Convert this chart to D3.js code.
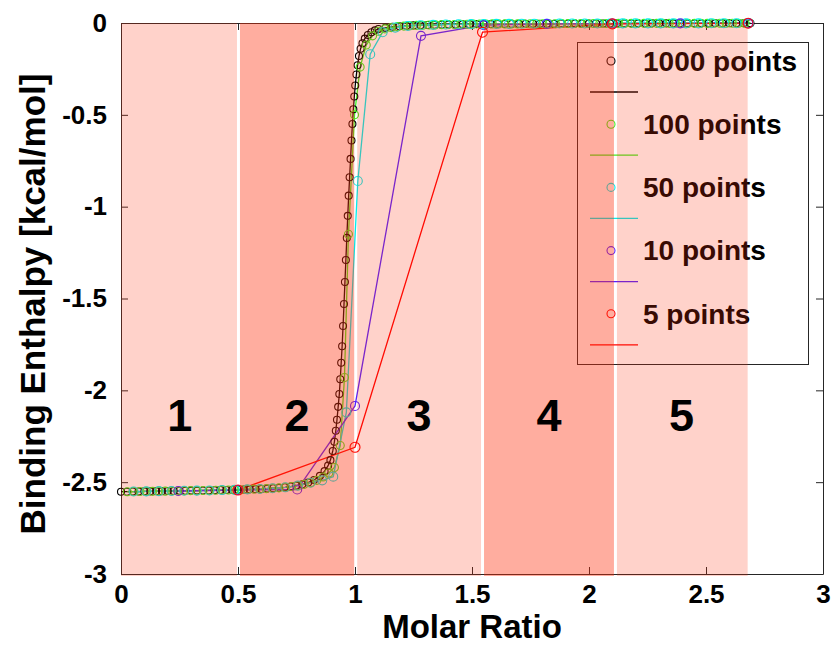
<!doctype html>
<html>
<head>
<script src="https://d3js.org/d3.v7.min.js"></script>
<style>
  body { margin: 0; background: #fff; }
  text { font-family: Arial, "Liberation Sans", Helvetica, sans-serif; font-weight: bold; }
</style>
</head>
<body>
<div id="chart"></div>
<script>
// ---- data ----
var seriesNames = ["1000 points", "100 points", "50 points", "10 points", "5 points"];
var seriesColors = ["#000000", "#44ee22", "#00eeee", "#5522ff", "#ff0000"];

var pts1000 = [
  [0.000,-2.552],[0.025,-2.552],[0.050,-2.551],[0.075,-2.551],[0.100,-2.550],[0.125,-2.550],
  [0.150,-2.549],[0.175,-2.549],[0.200,-2.548],[0.225,-2.548],[0.250,-2.547],[0.275,-2.547],
  [0.300,-2.546],[0.325,-2.546],[0.350,-2.545],[0.375,-2.545],[0.400,-2.544],[0.425,-2.543],
  [0.450,-2.543],[0.475,-2.542],[0.500,-2.541],[0.525,-2.540],[0.550,-2.539],[0.575,-2.538],
  [0.600,-2.537],[0.625,-2.535],[0.650,-2.533],[0.675,-2.531],[0.700,-2.528],[0.725,-2.524],
  [0.750,-2.519],[0.775,-2.512],[0.800,-2.502],[0.825,-2.488],[0.850,-2.466],[0.870,-2.440],
  [0.885,-2.410],[0.895,-2.380],[0.905,-2.330],[0.912,-2.280],[0.918,-2.220],[0.923,-2.160],
  [0.928,-2.090],[0.933,-2.020],[0.937,-1.940],[0.941,-1.850],[0.945,-1.760],[0.949,-1.650],
  [0.953,-1.530],[0.957,-1.410],[0.961,-1.290],[0.965,-1.170],[0.969,-1.050],[0.973,-0.940],
  [0.977,-0.840],[0.981,-0.740],[0.985,-0.640],[0.989,-0.550],[0.993,-0.470],[0.997,-0.400],
  [1.001,-0.340],[1.006,-0.280],[1.011,-0.230],[1.017,-0.180],[1.024,-0.140],[1.032,-0.110],
  [1.042,-0.085],[1.055,-0.065],[1.070,-0.050],[1.085,-0.040],[1.100,-0.033],[1.130,-0.026],
  [1.160,-0.021],[1.190,-0.018],[1.220,-0.015],[1.250,-0.013],[1.280,-0.012],[1.310,-0.011],
  [1.340,-0.010],[1.370,-0.009],[1.400,-0.008],[1.430,-0.008],[1.460,-0.007],[1.490,-0.007],
  [1.520,-0.006],[1.550,-0.006],[1.580,-0.006],[1.610,-0.005],[1.640,-0.005],[1.670,-0.005],
  [1.700,-0.005],[1.730,-0.004],[1.760,-0.004],[1.790,-0.004],[1.820,-0.004],[1.850,-0.004],
  [1.880,-0.003],[1.910,-0.003],[1.940,-0.003],[1.970,-0.003],[2.000,-0.003],[2.030,-0.003],
  [2.060,-0.003],[2.090,-0.003],[2.120,-0.002],[2.150,-0.002],[2.180,-0.002],[2.210,-0.002],
  [2.240,-0.002],[2.270,-0.002],[2.300,-0.002],[2.330,-0.002],[2.360,-0.002],[2.390,-0.002],
  [2.420,-0.002],[2.450,-0.002],[2.480,-0.002],[2.510,-0.002],[2.540,-0.001],[2.570,-0.001],
  [2.600,-0.001],[2.630,-0.001],[2.660,-0.001],[2.690,-0.001]
];

var pts100 = [
  [0.027,-2.552],[0.054,-2.551],[0.081,-2.551],[0.108,-2.550],[0.135,-2.550],[0.162,-2.549],
  [0.189,-2.549],[0.216,-2.548],[0.243,-2.548],[0.270,-2.547],[0.297,-2.546],[0.324,-2.546],
  [0.351,-2.545],[0.378,-2.545],[0.405,-2.544],[0.432,-2.543],[0.459,-2.543],[0.486,-2.542],
  [0.513,-2.541],[0.540,-2.539],[0.567,-2.538],[0.594,-2.537],[0.621,-2.535],[0.648,-2.533],
  [0.675,-2.531],[0.702,-2.528],[0.729,-2.524],[0.756,-2.519],[0.783,-2.512],[0.810,-2.503],
  [0.837,-2.490],[0.864,-2.472],[0.888,-2.450],[0.912,-2.420],[0.937,-2.300],[0.955,-1.930],
  [0.972,-1.150],[0.998,-0.500],[1.022,-0.240],[1.048,-0.120],[1.075,-0.070],[1.100,-0.045],
  [1.128,-0.032],[1.155,-0.025],[1.182,-0.020],[1.209,-0.017],[1.236,-0.015],[1.263,-0.013],
  [1.290,-0.012],[1.317,-0.011],[1.344,-0.010],[1.371,-0.009],[1.398,-0.008],[1.425,-0.008],
  [1.452,-0.007],[1.479,-0.007],[1.506,-0.006],[1.533,-0.006],[1.560,-0.006],[1.587,-0.005],
  [1.614,-0.005],[1.641,-0.005],[1.668,-0.005],[1.695,-0.005],[1.722,-0.004],[1.749,-0.004],
  [1.776,-0.004],[1.803,-0.004],[1.830,-0.004],[1.857,-0.004],[1.884,-0.003],[1.911,-0.003],
  [1.938,-0.003],[1.965,-0.003],[1.992,-0.003],[2.019,-0.003],[2.046,-0.003],[2.073,-0.003],
  [2.100,-0.003],[2.127,-0.002],[2.154,-0.002],[2.181,-0.002],[2.208,-0.002],[2.235,-0.002],
  [2.262,-0.002],[2.289,-0.002],[2.316,-0.002],[2.343,-0.002],[2.370,-0.002],[2.397,-0.002],
  [2.424,-0.002],[2.451,-0.002],[2.478,-0.002],[2.505,-0.002],[2.532,-0.001],[2.559,-0.001],
  [2.586,-0.001],[2.613,-0.001],[2.640,-0.001],[2.667,-0.001]
];

var pts50 = [
  [0.054,-2.551],[0.108,-2.550],[0.162,-2.549],[0.216,-2.548],[0.270,-2.547],[0.324,-2.546],
  [0.378,-2.545],[0.432,-2.543],[0.486,-2.542],[0.540,-2.539],[0.594,-2.537],[0.648,-2.533],
  [0.702,-2.528],[0.756,-2.519],[0.810,-2.503],[0.860,-2.490],[0.907,-2.470],[0.963,-2.120],
  [1.012,-0.860],[1.065,-0.170],[1.118,-0.050],[1.172,-0.025],[1.226,-0.016],[1.280,-0.012],
  [1.334,-0.010],[1.388,-0.008],[1.442,-0.007],[1.496,-0.006],[1.550,-0.006],[1.604,-0.005],
  [1.658,-0.005],[1.712,-0.004],[1.766,-0.004],[1.820,-0.004],[1.874,-0.003],[1.928,-0.003],
  [1.982,-0.003],[2.036,-0.003],[2.090,-0.003],[2.144,-0.002],[2.198,-0.002],[2.252,-0.002],
  [2.306,-0.002],[2.360,-0.002],[2.414,-0.002],[2.468,-0.002],[2.522,-0.001],[2.576,-0.001],
  [2.630,-0.001],[2.684,-0.001]
];

var pts10 = [
  [0.245,-2.548],[0.500,-2.543],[0.753,-2.540],[1.000,-2.085],[1.282,-0.070],
  [1.550,-0.012],[1.820,-0.005],[2.100,-0.003],[2.390,-0.002],[2.680,-0.001]
];

var pts5 = [[0.500,-2.543],[1.000,-2.310],[1.545,-0.050],[2.100,-0.005],[2.680,-0.001]];

var allSeries = [pts1000, pts100, pts50, pts10, pts5];
var markerR = [3.5, 4, 4.5, 4.5, 5];

// shaded injection regions
var regionEdges = [0, 0.502, 1.003, 1.545, 2.113, 2.678];
var regionLabels = ["1", "2", "3", "4", "5"];
var regionDark = [false, true, false, true, false];

var xTicks = [0, 0.5, 1, 1.5, 2, 2.5, 3];
var yTicks = [-3, -2.5, -2, -1.5, -1, -0.5, 0];

// ---- drawing ----
var width = 835, height = 650;
var x = d3.scaleLinear().domain([0, 3]).range([121, 823]);
var y = d3.scaleLinear().domain([-3, 0]).range([574, 23]);

var svg = d3.select("#chart").append("svg")
    .attr("width", width)
    .attr("height", height);

// axes (under the shading)
var fmt = function (d) { return String(d); };
svg.append("g").attr("transform", "translate(0," + y(-3) + ")")
    .call(d3.axisBottom(x).tickValues(xTicks).tickFormat(fmt).tickSizeInner(-7).tickSizeOuter(0).tickPadding(11));
svg.append("g").attr("transform", "translate(" + x(0) + ",0)")
    .call(d3.axisLeft(y).tickValues(yTicks).tickFormat(fmt).tickSizeInner(-7).tickSizeOuter(0).tickPadding(14));
svg.append("g").attr("transform", "translate(0," + y(0) + ")")
    .call(d3.axisTop(x).tickValues(xTicks).tickFormat("").tickSizeInner(-7).tickSizeOuter(0));
svg.append("g").attr("transform", "translate(" + x(3) + ",0)")
    .call(d3.axisRight(y).tickValues(yTicks).tickFormat("").tickSizeInner(-7).tickSizeOuter(0));
svg.selectAll(".domain, .tick line").attr("stroke", "#262626").attr("stroke-width", 1);
svg.selectAll(".tick text").attr("fill", "#000").style("font-size", "26px")
    .style("font-family", "Arial, 'Liberation Sans', sans-serif").style("font-weight", "bold");

// data
var line = d3.line().x(function (d) { return x(d[0]); }).y(function (d) { return y(d[1]); });
var plot = svg.append("g");
allSeries.forEach(function (s, i) {
    plot.append("path").datum(s)
        .attr("d", line)
        .attr("fill", "none")
        .attr("stroke", seriesColors[i])
        .attr("stroke-width", 1.3);
});
allSeries.forEach(function (s, i) {
    plot.selectAll(".dot" + i).data(s).enter().append("circle")
        .attr("class", "dot" + i)
        .attr("cx", function (d) { return x(d[0]); })
        .attr("cy", function (d) { return y(d[1]); })
        .attr("r", markerR[i])
        .attr("fill", "none")
        .attr("stroke", seriesColors[i])
        .attr("stroke-width", 1.1);
});

// legend (also under the shading)
var lg = svg.append("g");
lg.append("rect").attr("x", 577.5).attr("y", 42.5).attr("width", 231).attr("height", 322)
    .attr("fill", "#fff").attr("stroke", "#262626").attr("stroke-width", 1);
seriesNames.forEach(function (name, i) {
    var cy = 61 + i * 63.2;
    lg.append("circle").attr("cx", 611).attr("cy", cy).attr("r", 4)
        .attr("fill", "none").attr("stroke", seriesColors[i]).attr("stroke-width", 1.1);
    lg.append("text").attr("x", 643).attr("y", cy).attr("dy", "0.35em")
        .style("font-size", "28px").attr("fill", "#000").text(name);
    lg.append("line").attr("x1", 590).attr("x2", 638).attr("y1", cy + 31).attr("y2", cy + 31)
        .attr("stroke", seriesColors[i]).attr("stroke-width", 1.3);
});

// translucent red shading over the plot
var shade = svg.append("g");
for (var k = 0; k < regionLabels.length; k++) {
    var x0 = x(regionEdges[k]) + (k > 0 ? 1.5 : 0);
    var x1 = x(regionEdges[k + 1]) - (k < regionLabels.length - 1 ? 1.5 : 0);
    shade.append("rect")
        .attr("x", x0).attr("y", y(0))
        .attr("width", x1 - x0).attr("height", y(-3) - y(0) + 2)
        .attr("fill", "rgb(255,50,15)")
        .attr("fill-opacity", regionDark[k] ? 0.4 : 0.22);
}

// region numbers on top
regionLabels.forEach(function (lab, k) {
    svg.append("text")
        .attr("x", x((regionEdges[k] + regionEdges[k + 1]) / 2))
        .attr("y", y(-2.134))
        .attr("dy", "0.35em")
        .attr("text-anchor", "middle")
        .style("font-size", "45px")
        .attr("fill", "#000")
        .text(lab);
});

// axis titles
svg.append("text").attr("x", x(1.5)).attr("y", 638)
    .attr("text-anchor", "middle").style("font-size", "33px").text("Molar Ratio");
svg.append("text").attr("transform", "translate(45," + y(-1.53) + ") rotate(-90)")
    .attr("text-anchor", "middle").style("font-size", "35px").text("Binding Enthalpy [kcal/mol]");
</script>
</body>
</html>
